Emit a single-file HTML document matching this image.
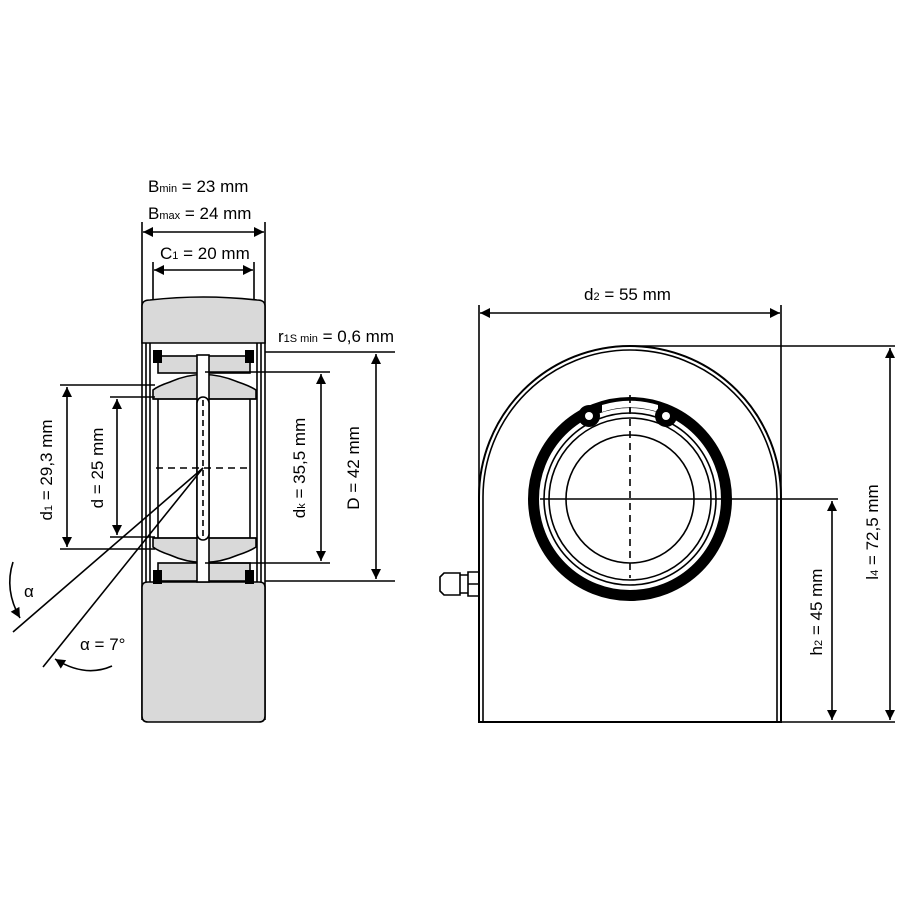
<!DOCTYPE html>
<html><head><style>body{margin:0;background:#fff}svg{display:block}text{font-family:"Liberation Sans",sans-serif;font-size:17px;fill:#000}.s{font-size:11px}</style></head>
<body>
<svg width="900" height="900" viewBox="0 0 900 900" xmlns="http://www.w3.org/2000/svg">
<defs>
<marker id="a" viewBox="0 0 10 10" refX="10" refY="5" markerWidth="14" markerHeight="10" markerUnits="userSpaceOnUse" orient="auto-start-reverse"><path d="M0,0L10,5L0,10z"/></marker>
</defs>
<g stroke="#000" stroke-width="1.6" fill="none">
<!-- left view extension lines -->
<line x1="142" y1="222" x2="142" y2="720"/><line x1="265" y1="222" x2="265" y2="720"/>
<line x1="153" y1="262" x2="153" y2="300"/><line x1="254" y1="262" x2="254" y2="300"/>
<line x1="143" y1="232" x2="264" y2="232" marker-start="url(#a)" marker-end="url(#a)"/>
<line x1="154" y1="270" x2="253" y2="270" marker-start="url(#a)" marker-end="url(#a)"/>
<!-- outer blocks -->
<path d="M142,343 L142,306 Q142,300 150,300 Q203,294 257,300 Q265,300 265,306 L265,343 Z" fill="#d9d9d9"/>
<path d="M142,587 Q142,582 148,582 L259,582 Q265,582 265,587 L265,716 Q265,722 259,722 L148,722 Q142,722 142,716 Z" fill="#d9d9d9"/>
<!-- inner grey segments -->
<rect x="158" y="356" width="92" height="17" fill="#d9d9d9"/>
<rect x="158" y="563" width="92" height="18" fill="#d9d9d9"/>
<path d="M153,399 L153,390 Q158,386 170,382 Q203,367 238,382 Q250,386 256,390 L256,399 Z" fill="#d9d9d9"/>
<path d="M153,538 L153,547 Q158,551 170,555 Q203,570 238,555 Q250,551 256,547 L256,538 Z" fill="#d9d9d9"/>
<!-- vertical lines -->
<line x1="146" y1="343" x2="146" y2="582"/><line x1="150" y1="343" x2="150" y2="582"/>
<line x1="257" y1="343" x2="257" y2="582"/><line x1="261" y1="343" x2="261" y2="582"/>
<line x1="158" y1="399" x2="158" y2="538"/><line x1="250" y1="399" x2="250" y2="538"/>
<line x1="153" y1="399" x2="256" y2="399"/><line x1="153" y1="538" x2="256" y2="538"/>
<rect x="197" y="355" width="12" height="227" fill="#fff"/>
<rect x="197" y="397" width="12" height="143" rx="6" fill="#fff"/>
<line x1="203" y1="400" x2="203" y2="537" stroke-dasharray="6,4"/>
<line x1="156" y1="468" x2="252" y2="468" stroke-dasharray="7,5"/>
<!-- dimension lines -->
<line x1="265" y1="352" x2="395" y2="352"/><line x1="265" y1="581" x2="395" y2="581"/>
<line x1="376" y1="354" x2="376" y2="579" marker-start="url(#a)" marker-end="url(#a)"/>
<line x1="205" y1="372" x2="330" y2="372"/><line x1="205" y1="563" x2="330" y2="563"/>
<line x1="321" y1="374" x2="321" y2="561" marker-start="url(#a)" marker-end="url(#a)"/>
<line x1="60" y1="385" x2="155" y2="385"/><line x1="60" y1="549" x2="155" y2="549"/>
<line x1="67" y1="387" x2="67" y2="547" marker-start="url(#a)" marker-end="url(#a)"/>
<line x1="110" y1="397" x2="155" y2="397"/><line x1="110" y1="537" x2="155" y2="537"/>
<line x1="117" y1="399" x2="117" y2="535" marker-start="url(#a)" marker-end="url(#a)"/>
<!-- angle lines -->
<line x1="203" y1="468" x2="13" y2="632"/><line x1="203" y1="468" x2="43" y2="667"/>
<path d="M13,562 Q4,590 20,618" marker-end="url(#a)"/>
<path d="M112,666 Q85,678 55,659" marker-end="url(#a)"/>
</g>
<g fill="#000">
<rect x="153" y="350" width="9" height="13"/><rect x="245" y="350" width="9" height="13"/>
<rect x="153" y="570" width="9" height="14"/><rect x="245" y="570" width="9" height="14"/>
</g>
<text x="148" y="192">B<tspan class="s">min</tspan> = 23 mm</text>
<text x="148" y="219">B<tspan class="s">max</tspan> = 24 mm</text>
<text x="160" y="259">C<tspan class="s">1</tspan> = 20 mm</text>
<text x="278" y="342">r<tspan class="s">1S min</tspan> = 0,6 mm</text>
<text transform="translate(52,470) rotate(-90)" text-anchor="middle">d<tspan class="s">1</tspan> = 29,3 mm</text>
<text transform="translate(103,468) rotate(-90)" text-anchor="middle">d = 25 mm</text>
<text transform="translate(305,468) rotate(-90)" text-anchor="middle">d<tspan class="s">k</tspan> = 35,5 mm</text>
<text transform="translate(359,468) rotate(-90)" text-anchor="middle">D = 42 mm</text>
<text x="24" y="597">α</text>
<text x="80" y="650">α = 7°</text>
<!-- right view -->
<g stroke="#000" stroke-width="1.6" fill="none">
<line x1="479" y1="305" x2="479" y2="722"/><line x1="781" y1="305" x2="781" y2="722"/>
<line x1="480" y1="313" x2="780" y2="313" marker-start="url(#a)" marker-end="url(#a)"/>
<path d="M479,722 L479,497 A151,151 0 0 1 781,497 L781,722 Z" stroke-width="2"/>
<path d="M483,722 L483,497 A147,147 0 0 1 777,497 L777,722" />
<line x1="630" y1="346" x2="895" y2="346"/><line x1="781" y1="722" x2="895" y2="722"/>
<line x1="890" y1="348" x2="890" y2="720" marker-start="url(#a)" marker-end="url(#a)"/>
<line x1="540" y1="499" x2="838" y2="499"/>
<line x1="832" y1="501" x2="832" y2="720" marker-start="url(#a)" marker-end="url(#a)"/>
<circle cx="630" cy="499" r="96.5" stroke-width="11"/>
<circle cx="630" cy="499" r="86"/><circle cx="630" cy="499" r="81"/><circle cx="630" cy="499" r="64"/>
<line x1="630" y1="395" x2="630" y2="578" stroke-dasharray="7,5"/>
<path d="M440,577 L444,573 L460,573 L460,595 L444,595 L440,591 Z M460,575 L468,575 L468,593 L460,593 M468,572 L479,572 L479,596 L468,596 Z M468,584 L479,584"/>
</g>
<!-- snap ring gap -->
<path d="M602,405 A96,96 0 0 1 658,405 L658,412 A87,87 0 0 0 602,412 Z" fill="#fff"/>
<circle cx="589" cy="416" r="11" fill="#000"/><circle cx="666" cy="416" r="11" fill="#000"/>
<circle cx="589" cy="416" r="4" fill="#fff"/><circle cx="666" cy="416" r="4" fill="#fff"/>
<line x1="630" y1="398" x2="630" y2="412" stroke="#000" stroke-width="1.6" stroke-dasharray="5,4"/>
<text x="584" y="300">d<tspan class="s">2</tspan> = 55 mm</text>
<text transform="translate(822,612) rotate(-90)" text-anchor="middle">h<tspan class="s">2</tspan> = 45 mm</text>
<text transform="translate(878,532) rotate(-90)" text-anchor="middle">l<tspan class="s">4</tspan> = 72,5 mm</text>
</svg>
</body></html>
